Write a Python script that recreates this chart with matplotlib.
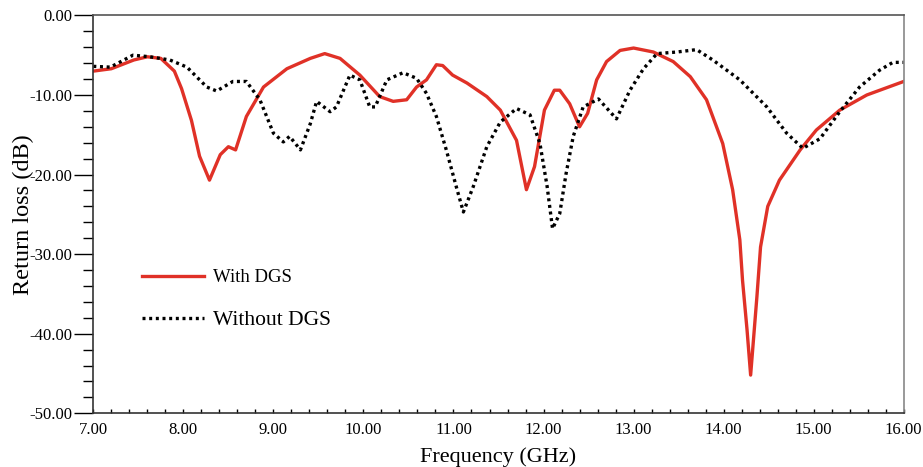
import numpy as np
import matplotlib.pyplot as plt
from matplotlib.ticker import MultipleLocator, FuncFormatter

plt.rcParams['font.family'] = ['Liberation Serif', 'DejaVu Serif']

# With DGS (red, solid)
freq_dgs = [7.00, 7.20, 7.45, 7.60, 7.75, 7.90, 7.98, 8.09, 8.18, 8.29, 8.41, 8.50, 8.58,
            8.70, 8.89, 9.15, 9.41, 9.57, 9.74, 9.96, 10.18, 10.33, 10.48, 10.59, 10.70,
            10.81, 10.88, 10.99, 11.15, 11.37, 11.52, 11.70, 11.81, 11.90, 12.01, 12.12,
            12.18, 12.29, 12.40, 12.49, 12.59, 12.70, 12.85, 13.00, 13.22, 13.44, 13.63,
            13.81, 13.99, 14.10, 14.18, 14.21, 14.26, 14.30, 14.37, 14.41, 14.49, 14.62,
            14.85, 15.03, 15.29, 15.59, 16.00]
rl_dgs = [-7.0, -6.7, -5.6, -5.2, -5.4, -7.0, -9.2, -13.2, -17.7, -20.7, -17.5, -16.5, -16.9,
          -12.7, -9.0, -6.7, -5.4, -4.8, -5.4, -7.5, -10.2, -10.8, -10.6, -9.0, -8.1,
          -6.2, -6.3, -7.5, -8.5, -10.2, -11.9, -15.7, -21.9, -19.0, -11.9, -9.4,
          -9.4, -11.1, -14.0, -12.3, -8.1, -5.8, -4.4, -4.1, -4.6, -5.8, -7.7,
          -10.6, -16.1, -21.9, -28.2, -33.3, -39.5, -45.2, -35.3, -29.1, -24.0, -20.7,
          -16.9, -14.4, -11.9, -10.0, -8.3]

# Without DGS (black, dotted)
freq_ref = [7.00, 7.19, 7.44, 7.63, 7.85, 8.04, 8.26, 8.37, 8.55, 8.70, 8.85, 9.00, 9.11,
            9.18, 9.30, 9.41, 9.48, 9.63, 9.70, 9.85, 9.96, 10.07, 10.13, 10.26, 10.44,
            10.59, 10.70, 10.81, 10.92, 11.04, 11.11, 11.22, 11.37, 11.52, 11.70, 11.85,
            11.96, 12.04, 12.10, 12.18, 12.25, 12.33, 12.44, 12.61, 12.81, 12.96, 13.11,
            13.26, 13.48, 13.70, 13.88, 14.18, 14.48, 14.70, 14.88, 15.07, 15.29, 15.51,
            15.73, 15.88, 16.00]
rl_ref = [-6.4, -6.5, -5.0, -5.2, -5.6, -6.5, -9.0, -9.5, -8.3, -8.3, -10.6, -14.8, -15.9,
          -15.2, -16.9, -13.6, -10.8, -12.1, -11.5, -7.5, -8.1, -11.5, -11.5, -8.1, -7.2,
          -7.9, -9.8, -12.7, -16.9, -21.9, -24.7, -21.5, -16.5, -13.4, -11.7, -12.5,
          -16.1, -21.5, -26.8, -24.9, -19.9, -15.2, -11.5, -10.5, -13.0, -9.4, -6.7,
          -4.8, -4.6, -4.3, -5.6, -8.1, -11.5, -14.8, -16.7, -15.5, -12.1, -9.0,
          -6.9, -5.9, -5.9]

fig = plt.figure(figsize=(9.23, 4.67), dpi=100)
ax = fig.add_axes([0.1011, 0.115, 0.878, 0.852])

ax.plot(freq_dgs, rl_dgs, color='#e03127', lw=2.4, label='With DGS', solid_joinstyle='round')
ax.plot(freq_ref, rl_ref, color='black', lw=2.4, linestyle=(0, (0.9, 1.1)), label='Without DGS')

ax.set_xlim(7, 16)
ax.set_ylim(-50, 0)

fmt = FuncFormatter(lambda v, p: f'{v:.2f}'.replace('\u2212', '-'))
ax.xaxis.set_major_locator(MultipleLocator(1))
ax.xaxis.set_minor_locator(MultipleLocator(0.2))
ax.yaxis.set_major_locator(MultipleLocator(10))
ax.yaxis.set_minor_locator(MultipleLocator(2))
ax.xaxis.set_major_formatter(fmt)
ax.yaxis.set_major_formatter(fmt)

ax.tick_params(axis='x', which='both', direction='in', length=3, width=1, labelsize=12, pad=6)
ax.tick_params(axis='y', which='major', direction='out', length=14, width=1, labelsize=12, pad=1)
ax.tick_params(axis='y', which='minor', direction='out', length=7, width=1)

for s in ['left', 'bottom']:
    ax.spines[s].set_color('#333333')
    ax.spines[s].set_linewidth(1.2)
ax.spines['top'].set_color('#555555')
ax.spines['top'].set_linewidth(1.2)
ax.spines['right'].set_color('#888888')
ax.spines['right'].set_linewidth(1.2)

ax.set_xlabel('Frequency (GHz)', fontsize=16, labelpad=7)
ax.set_ylabel('Return loss (dB)', fontsize=17.5, labelpad=-3)

leg = ax.legend(loc='upper left', bbox_to_anchor=(0.039, 0.405), frameon=False,
                fontsize=13.5, handlelength=3.3, handletextpad=0.5, labelspacing=1.3)
texts = leg.get_texts()
texts[1].set_fontsize(15.5)

fig.savefig('out.png', dpi=100)
